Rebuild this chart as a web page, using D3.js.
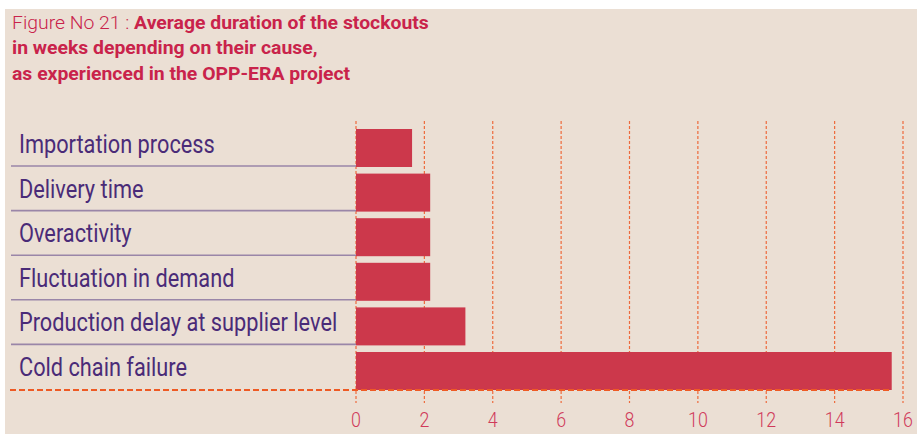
<!DOCTYPE html>
<html><head><meta charset="utf-8">
<script src="https://cdn.jsdelivr.net/npm/d3@7"></script>
<style>body{margin:0;background:#fff}svg{display:block}</style>
</head><body>
<svg id="c" width="917" height="434"></svg>
<script>
const categories = ["Importation process","Delivery time","Overactivity","Fluctuation in demand","Production delay at supplier level","Cold chain failure"];
const values = [1.64, 2.17, 2.17, 2.17, 3.2, 15.67];
const ticks = [0,2,4,6,8,10,12,14,16];
const titlePrefix = "Figure No 21 : ";
const titleLines = ["Average duration of the stockouts","in weeks depending on their cause,","as experienced in the OPP-ERA project"];

const svg = d3.select("#c");
svg.append("rect").attr("x",5).attr("y",9).attr("width",912).attr("height",425).attr("fill","#ebdfd4");

const x = d3.scaleLinear().domain([0,16]).range([356,903]);
const y = d3.scaleBand().domain(categories).range([125.7,393.3]).paddingInner(0.148).paddingOuter(0.074);

// title
const tg = svg.append("g").attr("transform","translate(12,0) scale(1.02,1)");
const t = tg.append("text").attr("font-family","Roboto").attr("font-size",19).attr("fill","#c9234b");
titleLines.forEach((line,i)=>{
  if(i===0){
    t.append("tspan").attr("x",0).attr("y",29).attr("font-weight",300).text(titlePrefix);
    t.append("tspan").attr("font-weight",700).text(line);
  } else {
    t.append("tspan").attr("x",0).attr("y",29+i*25.5).attr("font-weight",700).text(line);
  }
});

// gridlines
svg.append("g").selectAll("line").data(ticks).join("line")
  .attr("x1",d=>x(d)).attr("x2",d=>x(d)).attr("y1",121).attr("y2",403)
  .attr("stroke","#ee6a3c").attr("stroke-width",1.2).attr("stroke-dasharray","3,2");

// bars
svg.append("g").selectAll("rect").data(categories).join("rect")
  .attr("x",x(0)).attr("y",d=>y(d)).attr("width",(d,i)=>x(values[i])-x(0)).attr("height",y.bandwidth())
  .attr("fill","#cc384b");

// separators
svg.append("g").selectAll("line").data(categories.slice(0,-1)).join("line")
  .attr("x1",11).attr("x2",x(0)).attr("y1",d=>y(d)+y.bandwidth()-1).attr("y2",d=>y(d)+y.bandwidth()-1)
  .attr("stroke","#9a86a8").attr("stroke-width",1.6);

// baseline dashed
const last = categories[categories.length-1];
svg.append("line").attr("x1",10).attr("x2",x(values[values.length-1]))
  .attr("y1",y(last)+y.bandwidth()).attr("y2",y(last)+y.bandwidth())
  .attr("stroke","#ee5a24").attr("stroke-width",2).attr("stroke-dasharray","6,3");

// labels
svg.append("g").selectAll("text").data(categories).join("text")
  .attr("transform",d=>`translate(19,${y(d)+24}) scale(0.87,1)`)
  .attr("font-family","Roboto").attr("font-size",25).attr("fill","#4a2b78").text(d=>d);

// tick labels
svg.append("g").selectAll("text").data(ticks).join("text")
  .attr("transform",d=>`translate(${x(d)},427) scale(0.85,1)`)
  .attr("text-anchor","middle").attr("font-family","Roboto").attr("font-weight",300)
  .attr("font-size",21).attr("fill","#d03a5a").text(d=>d);
</script>
</body></html>
